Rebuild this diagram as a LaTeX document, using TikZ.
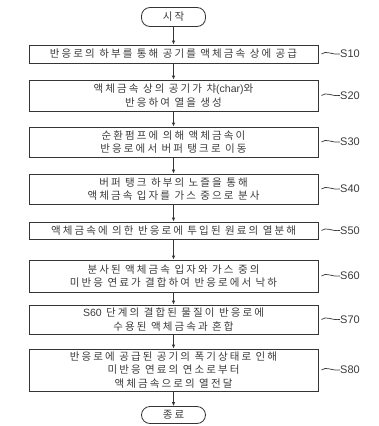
\documentclass[tikz,border=0pt]{standalone}
\usepackage{fontspec}
\usepackage{tikz}
\usetikzlibrary{arrows.meta}
\newfontfamily\krfont{Noto Sans CJK KR}[LetterSpace=20]
\newfontfamily\labfont{Liberation Sans}
\definecolor{FCLine}{HTML}{353535}
\definecolor{FCText}{HTML}{3A3A3A}

\begin{document}
\begin{tikzpicture}[x=1pt,y=-1pt,
  stepbox/.style={draw=FCLine,line width=.8pt,inner sep=0pt,minimum width=289pt,
    align=center,text=FCText,font=\krfont\fontsize{10.5}{13.5}\selectfont},
  termbox/.style={draw=FCLine,line width=.8pt,inner sep=0pt,minimum width=64pt,
    rounded corners=8.5pt,text=FCText,font=\krfont\fontsize{10.5}{13.5}\selectfont},
  steplabel/.style={anchor=west,inner sep=0pt,text=FCText,font=\labfont\fontsize{11}{13}\selectfont},
  flowarrow/.style={FCLine,line width=.8pt,-{Latex[length=4pt,width=3.5pt]}},
  leader/.style={FCLine,line width=.7pt}]
\path[use as bounding box] (0,0) rectangle (379,426);
% terminals and steps
\node[termbox,minimum height=19pt] (start) at (173.5,17) {시작};
\node[stepbox,minimum height=18pt] (s10) at (173.5,54) {반응로의 하부를 통해 공기를 액체금속 상에 공급};
\node[stepbox,minimum height=31pt] (s20) at (173.5,95.5) {액체금속 상의 공기가 챠{\labfont(char)}와\\반응하여 열을 생성};
\node[stepbox,minimum height=30pt] (s30) at (173.5,142) {순환펌프에 의해 액체금속이\\반응로에서 버퍼 탱크로 이동};
\node[stepbox,minimum height=30pt] (s40) at (173.5,189) {버퍼 탱크 하부의 노즐을 통해\\액체금속 입자를 가스 중으로 분사};
\node[stepbox,minimum height=17pt] (s50) at (173.5,230.5) {액체금속에 의한 반응로에 투입된 원료의 열분해};
\node[stepbox,minimum height=32pt] (s60) at (173.5,276) {분사된 액체금속 입자와 가스 중의\\미반응 연료가 결합하여 반응로에서 낙하};
\node[stepbox,minimum height=29pt] (s70) at (173.5,319.5) {{\labfont S60} 단계의 결합된 물질이 반응로에\\수용된 액체금속과 혼합};
\node[stepbox,minimum height=42pt] (s80) at (173.5,370) {반응로에 공급된 공기의 폭기상태로 인해\\미반응 연료의 연소로부터\\액체금속으로의 열전달};
\node[termbox,minimum height=17pt] (end) at (173.5,415) {종료};
% step numbers
\node[steplabel] (l10) at (340,54) {S10};
\node[steplabel] (l20) at (340,95.5) {S20};
\node[steplabel] (l30) at (340,142) {S30};
\node[steplabel] (l40) at (340,189) {S40};
\node[steplabel] (l50) at (340,230.5) {S50};
\node[steplabel] (l60) at (340,276) {S60};
\node[steplabel] (l70) at (340,319.5) {S70};
\node[steplabel] (l80) at (340,370) {S80};
% flow
\foreach \a/\b in {start/s10,s10/s20,s20/s30,s30/s40,s40/s50,s50/s60,s60/s70,s70/s80,s80/end}
  \draw[flowarrow] (\a) -- (\b);
\foreach \n in {10,20,...,80}
  \draw[leader] ([xshift=3pt]s\n.east) .. controls +(5,-4) and +(-9,1) .. (l\n.west);
\end{tikzpicture}
\end{document}
